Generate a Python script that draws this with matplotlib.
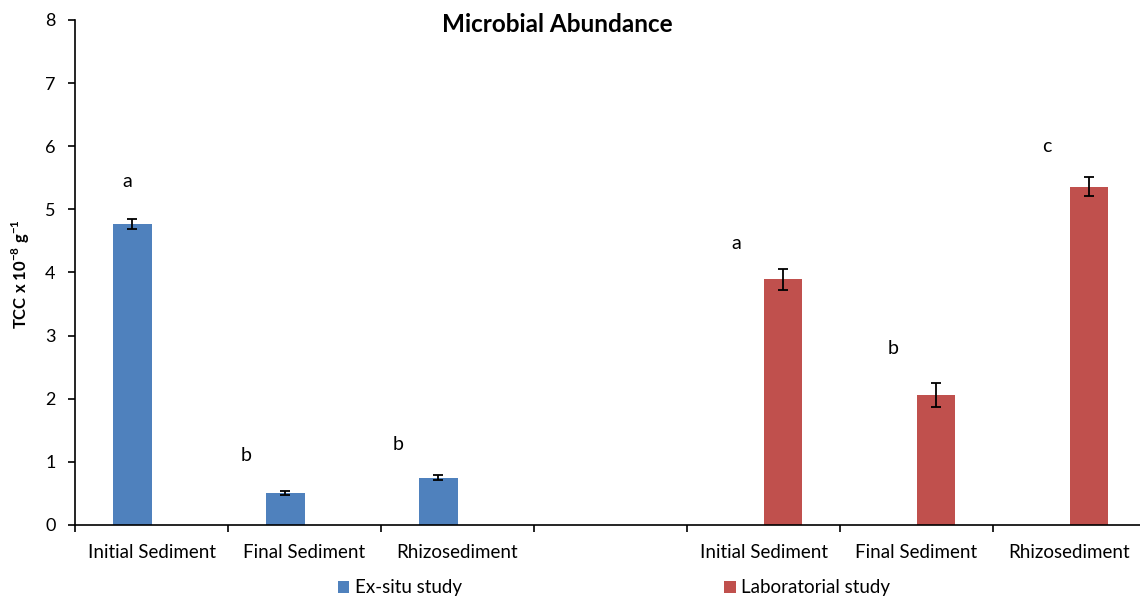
#---------import---------#
import numpy as np
import matplotlib.pyplot as plt
#------------------------#


#----------Data----------#
categories = ['Initial Sediment', 'Final Sediment', 'Rhizosediment', '',
              'Initial Sediment', 'Final Sediment', 'Rhizosediment']
exsitu = [4.77, 0.51, 0.75, np.nan, np.nan, np.nan, np.nan]
exsitu_err = [0.08, 0.03, 0.035, 0, 0, 0, 0]
lab = [np.nan, np.nan, np.nan, np.nan, 3.89, 2.06, 5.36]
lab_err = [0, 0, 0, 0, 0.16, 0.19, 0.15]
letters = ['a', 'b', 'b', 'a', 'b', 'c']
letter_x = [-0.16, 0.62, 1.61, 3.82, 4.85, 5.85]
letter_y = [5.44, 1.10, 1.28, 4.46, 2.79, 6.00]
#------------------------#


#------Setting_font------#
plt.rcParams['font.family'] = ['Lato', 'DejaVu Sans']
plt.rcParams['mathtext.fontset'] = 'custom'
plt.rcParams['mathtext.rm'] = 'Lato'
plt.rcParams['mathtext.bf'] = 'Lato:bold'
#------------------------#


#----------Plot----------#
fig = plt.figure(figsize=(11.4, 5.98), dpi=100)
ax = fig.add_axes([0.0658, 0.1221, 0.9395, 0.8445])

x = np.arange(len(categories))
w = 0.25
b1 = ax.bar(x - w / 2, exsitu, w, color='#4F81BD', label='Ex-situ study')
b2 = ax.bar(x + w / 2, lab, w, color='#C0504D', label='Laboratorial study')

ex = np.array(exsitu)
lb = np.array(lab)
m1 = ~np.isnan(ex)
m2 = ~np.isnan(lb)
ax.errorbar((x - w / 2)[m1], ex[m1], yerr=np.array(exsitu_err)[m1], fmt='none',
            ecolor='black', elinewidth=1.3, capsize=3.6, capthick=1.3)
ax.errorbar((x + w / 2)[m2], lb[m2], yerr=np.array(lab_err)[m2], fmt='none',
            ecolor='black', elinewidth=1.3, capsize=3.6, capthick=1.3)

for t, lx, ly in zip(letters, letter_x, letter_y):
    ax.text(lx, ly, t, ha='center', va='center', fontsize=14)

ax.set_xlim(-0.5, len(categories) - 0.5)
ax.set_ylim(0, 8)
ax.set_yticks(np.arange(0, 9, 1))
ax.set_xticks(x)
ax.set_xticklabels(categories)
ax.set_xticks(np.arange(-0.5, len(categories), 1), minor=True)
ax.tick_params(axis='x', which='major', length=0, pad=14, labelsize=13.5)
ax.tick_params(axis='x', which='minor', length=5, width=1.2, direction='out')
ax.tick_params(axis='y', length=5, width=1.2, direction='out', pad=9, labelsize=13)

for s in ['top', 'right']:
    ax.spines[s].set_visible(False)
for s in ['left', 'bottom']:
    ax.spines[s].set_linewidth(1.2)

fig.text(557 / 1140, 1 - 24 / 598, 'Microbial Abundance', ha='center', va='center',
         fontsize=17.5, fontweight='bold')
fig.text(21 / 1140, 1 - 274 / 598, r'TCC x 10$^{\mathbf{-8}}$ g$^{\mathbf{-1}}$',
         rotation=90, ha='center', va='center', fontsize=12, fontweight='bold')

fig.legend(handles=[b1, b2], loc='center', bbox_to_anchor=(614 / 1140, 1 - 588 / 598),
           ncol=2, frameon=False, handlelength=0.6, handleheight=0.6,
           handletextpad=0.3, columnspacing=14.0, fontsize=13.5, borderpad=0)

fig.savefig('out.png', dpi=100)
#------------------------#
